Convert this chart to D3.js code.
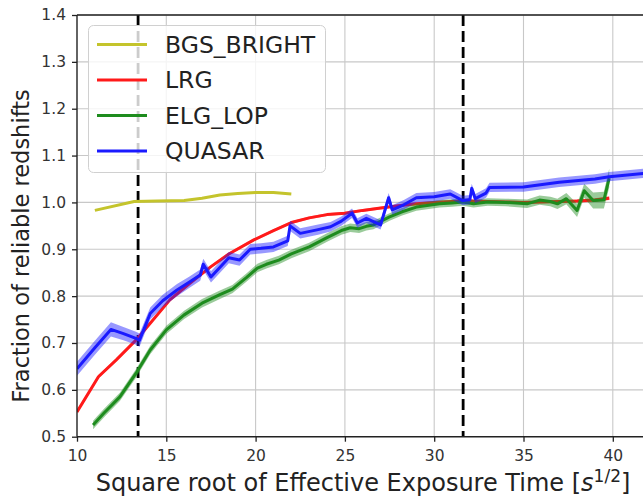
<!DOCTYPE html>
<html>
<head>
<meta charset="utf-8">
<script src="https://cdn.jsdelivr.net/npm/d3@7"></script>
<style>
  html, body { margin: 0; padding: 0; background: #fff; }
  svg { display: block; font-family: "DejaVu Sans", sans-serif; }
</style>
</head>
<body>
<svg id="chart" width="643" height="502"></svg>
<script>
// ---- data ----
const seriesNames = ["BGS_BRIGHT", "LRG", "ELG_LOP", "QUASAR"];
const xTicks = [10, 15, 20, 25, 30, 35, 40];
const yTicks = [0.5, 0.6, 0.7, 0.8, 0.9, 1.0, 1.1, 1.2, 1.3, 1.4];
const yTickLabels = ["0.5", "0.6", "0.7", "0.8", "0.9", "1.0", "1.1", "1.2", "1.3", "1.4"];
const cutLines = [13.42, 31.62];

const bgsX = [11.0, 13.2, 14.5, 16.0, 17.0, 18.0, 19.0, 20.0, 21.0, 22.0];
const bgsY = [0.983, 1.002, 1.003, 1.004, 1.009, 1.016, 1.019, 1.021, 1.021, 1.018];

const lrgX = [10, 11.2, 12.2, 13.3, 14.1, 15.2, 16.3, 17.5, 18.5, 19.9, 21, 22, 23, 24, 25, 26, 27, 28, 29, 30, 31, 32, 33, 34, 35, 36, 37, 38, 39, 39.8];
const lrgY = [0.553, 0.628, 0.664, 0.706, 0.742, 0.792, 0.827, 0.863, 0.89, 0.92, 0.94, 0.957, 0.967, 0.974, 0.977, 0.983, 0.988, 0.993, 0.997, 1.0, 1.002, 1.003, 1.002, 1.001, 1.0, 1.001, 1.002, 1.003, 1.005, 1.009];
const lrgErr = [0.004, 0.004, 0.003, 0.003, 0.003, 0.003, 0.003, 0.003, 0.003, 0.003, 0.003, 0.003, 0.003, 0.003, 0.003, 0.003, 0.003, 0.003, 0.003, 0.003, 0.003, 0.003, 0.003, 0.003, 0.003, 0.003, 0.003, 0.003, 0.004, 0.004];

const elgX = [10.9, 11.5, 12.4, 13.3, 14.1, 15.0, 16.0, 17.0, 18.0, 18.7, 19.5, 20.1, 20.6, 21.3, 22.0, 23.0, 24.0, 24.8, 25.3, 25.8, 26.2, 26.6, 27.5, 28.2, 29.0, 30.3, 31.0, 31.6, 32.2, 33.0, 34.0, 35.2, 35.9, 36.5, 36.9, 37.4, 38.0, 38.4, 38.9, 39.5, 39.8];
const elgY = [0.525, 0.55, 0.585, 0.635, 0.685, 0.728, 0.76, 0.785, 0.803, 0.815, 0.84, 0.86, 0.868, 0.877, 0.89, 0.905, 0.925, 0.94, 0.946, 0.944, 0.949, 0.952, 0.969, 0.98, 0.99, 0.997, 0.999, 1.001, 0.997, 1.001, 1.0, 0.997, 1.005, 1.002, 0.997, 1.008, 0.983, 1.025, 1.004, 1.005, 1.052];
const elgErr = [0.009, 0.009, 0.009, 0.009, 0.009, 0.009, 0.009, 0.009, 0.009, 0.009, 0.009, 0.009, 0.009, 0.009, 0.009, 0.009, 0.009, 0.009, 0.009, 0.009, 0.009, 0.009, 0.008, 0.008, 0.008, 0.008, 0.008, 0.008, 0.008, 0.008, 0.008, 0.009, 0.01, 0.01, 0.011, 0.012, 0.014, 0.015, 0.017, 0.018, 0.02];

const qsoX = [10, 11.0, 11.9, 12.6, 13.3, 13.5, 14.1, 14.8, 15.6, 16.3, 16.9, 17.07, 17.5, 18.5, 19.1, 19.7, 20.3, 21.0, 21.8, 21.93, 22.5, 23.5, 24.2, 24.8, 25.4, 25.7, 26.2, 27.0, 27.45, 27.65, 28.3, 29.0, 30.0, 30.9, 31.6, 32.0, 32.1, 32.3, 32.9, 33.1, 35.0, 37.0, 39.0, 39.8, 41.7];
const qsoY = [0.645, 0.69, 0.729, 0.72, 0.71, 0.706, 0.763, 0.79, 0.813, 0.83, 0.845, 0.868, 0.841, 0.882, 0.877, 0.9, 0.902, 0.905, 0.918, 0.95, 0.934, 0.942, 0.948, 0.96, 0.977, 0.956, 0.966, 0.952, 1.01, 0.984, 0.995, 1.01, 1.012, 1.018, 1.004, 1.006, 1.03, 1.008, 1.02, 1.032, 1.033, 1.043, 1.05, 1.055, 1.062];
const qsoErr = [0.015, 0.015, 0.015, 0.014, 0.014, 0.014, 0.013, 0.013, 0.013, 0.012, 0.012, 0.012, 0.012, 0.012, 0.012, 0.011, 0.011, 0.011, 0.011, 0.011, 0.011, 0.011, 0.01, 0.01, 0.01, 0.01, 0.01, 0.01, 0.01, 0.01, 0.01, 0.01, 0.01, 0.01, 0.01, 0.01, 0.01, 0.01, 0.01, 0.01, 0.01, 0.01, 0.01, 0.01, 0.01];

const colors = ["#c4c42c", "#ff1a1a", "#1e8c1e", "#1a1aff"];

// ---- layout ----
const svg = d3.select("#chart");
const W = 643, H = 502;
const mLeft = 77, mTop = 15, mBottom = 436.7;
const x = d3.scaleLinear().domain([10, 40]).range([mLeft, 612.8]);
const y = d3.scaleLinear().domain([0.5, 1.4]).range([mBottom, mTop]);
const mRight = W + 2;

svg.append("defs").append("clipPath").attr("id", "plotclip")
  .append("rect").attr("x", mLeft).attr("y", mTop).attr("width", mRight - mLeft).attr("height", mBottom - mTop);

// grid
const grid = svg.append("g").attr("stroke", "#c8c8c8").attr("stroke-width", 1.1);
grid.selectAll("line.gx").data(xTicks.slice(1)).join("line")
  .attr("x1", d => x(d)).attr("x2", d => x(d)).attr("y1", mTop).attr("y2", mBottom);
grid.selectAll("line.gy").data(yTicks.slice(1)).join("line")
  .attr("x1", mLeft).attr("x2", mRight).attr("y1", d => y(d)).attr("y2", d => y(d));

const plot = svg.append("g").attr("clip-path", "url(#plotclip)");

// vertical dashed cut lines
plot.selectAll("line.cut").data(cutLines).join("line")
  .attr("x1", d => x(d)).attr("x2", d => x(d)).attr("y1", mTop).attr("y2", mBottom)
  .attr("stroke", "#000").attr("stroke-width", 2.8).attr("stroke-dasharray", "11,5");

function toPts(xs, ys, es) { return xs.map((v, i) => ({ x: v, y: ys[i], e: es ? es[i] : 0 })); }
const lineGen = d3.line().x(d => x(d.x)).y(d => y(d.y));
const areaGen = d3.area().x(d => x(d.x)).y0(d => y(d.y - d.e)).y1(d => y(d.y + d.e));

const series = [
  { pts: toPts(bgsX, bgsY, null), c: colors[0] },
  { pts: toPts(lrgX, lrgY, lrgErr), c: colors[1] },
  { pts: toPts(elgX, elgY, elgErr), c: colors[2] },
  { pts: toPts(qsoX, qsoY, qsoErr), c: colors[3] }
];
series.forEach(s => {
  if (s.pts[0].e > 0) {
    plot.append("path").datum(s.pts).attr("d", areaGen)
      .attr("fill", s.c).attr("fill-opacity", 0.45).attr("stroke", "none");
  }
  plot.append("path").datum(s.pts).attr("d", lineGen)
    .attr("fill", "none").attr("stroke", s.c).attr("stroke-width", 3)
    .attr("stroke-linejoin", "round");
});

// spines
svg.append("line").attr("x1", mLeft).attr("x2", mLeft).attr("y1", mTop).attr("y2", mBottom)
  .attr("stroke", "#222").attr("stroke-width", 1.4);
svg.append("line").attr("x1", mLeft).attr("x2", mRight).attr("y1", mBottom).attr("y2", mBottom)
  .attr("stroke", "#222").attr("stroke-width", 1.4);
svg.append("line").attr("x1", mLeft).attr("x2", mRight).attr("y1", mTop).attr("y2", mTop)
  .attr("stroke", "#222").attr("stroke-width", 1.4);

// axes
const xAxis = d3.axisBottom(x).tickValues(xTicks).tickSize(5).tickPadding(8).tickFormat(d3.format("d"));
const gx = svg.append("g").attr("transform", `translate(0,${mBottom})`).call(xAxis);
gx.select(".domain").remove();
gx.selectAll(".tick line").attr("stroke", "#222").attr("stroke-width", 1.3);
gx.selectAll(".tick text").attr("fill", "#333").style("font-size", "15.5px").style("font-family", "DejaVu Sans");

const yAxis = d3.axisLeft(y).tickValues(yTicks).tickSize(5).tickPadding(6).tickFormat((d, i) => yTickLabels[i]);
const gy = svg.append("g").attr("transform", `translate(${mLeft},0)`).call(yAxis);
gy.select(".domain").remove();
gy.selectAll(".tick line").attr("stroke", "#222").attr("stroke-width", 1.3);
gy.selectAll(".tick text").attr("fill", "#333").style("font-size", "15.5px").style("font-family", "DejaVu Sans");

// axis labels
const xl = svg.append("text").attr("x", 363).attr("y", 491).attr("text-anchor", "middle")
  .attr("fill", "#222").style("font-size", "24px");
xl.append("tspan").text("Square root of Effective Exposure Time [");
xl.append("tspan").attr("font-style", "italic").text("s");
xl.append("tspan").attr("dy", -9).style("font-size", "17px").text("1/2");
xl.append("tspan").attr("dy", 9).text("]");

svg.append("text").attr("transform", "translate(29,246) rotate(-90)").attr("text-anchor", "middle")
  .attr("fill", "#222").style("font-size", "22.5px").text("Fraction of reliable redshifts");

// legend
const lg = svg.append("g");
lg.append("rect").attr("x", 88.5).attr("y", 25.5).attr("width", 237).attr("height", 147).attr("rx", 5)
  .attr("fill", "#fff").attr("fill-opacity", 0.8).attr("stroke", "#d0d0d0").attr("stroke-width", 1);
const legY = [44.5, 80, 115.5, 151];
seriesNames.forEach((n, i) => {
  lg.append("line").attr("x1", 97).attr("x2", 147).attr("y1", legY[i]).attr("y2", legY[i])
    .attr("stroke", colors[i]).attr("stroke-width", 3);
  lg.append("text").attr("x", 165).attr("y", legY[i]).attr("dy", "0.36em")
    .attr("fill", "#222").style("font-size", "23.5px").text(n);
});
</script>
</body>
</html>
